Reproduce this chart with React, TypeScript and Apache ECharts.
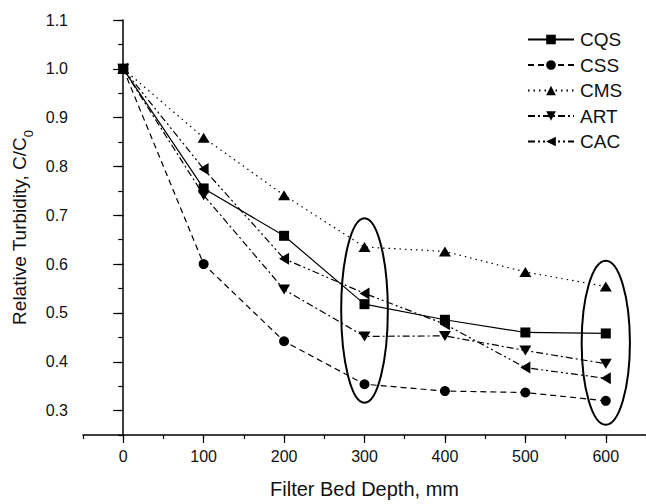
import React, { useEffect, useRef } from "react";
import * as echarts from "echarts";

const depths = [0, 100, 200, 300, 400, 500, 600];
const cqs = [1.0, 0.755, 0.658, 0.518, 0.486, 0.46, 0.458];
const css = [1.0, 0.6, 0.442, 0.354, 0.34, 0.337, 0.32];
const cms = [1.0, 0.859, 0.741, 0.635, 0.626, 0.584, 0.554];
const art = [1.0, 0.741, 0.548, 0.452, 0.453, 0.423, 0.396];
const cac = [1.0, 0.795, 0.611, 0.54, 0.477, 0.388, 0.366];
const seriesNames = ["CQS", "CSS", "CMS", "ART", "CAC"];
const xMajorTicks = [0, 100, 200, 300, 400, 500, 600];
const yMajorTicks = [0.3, 0.4, 0.5, 0.6, 0.7, 0.8, 0.9, 1.0, 1.1];
// ellipses: [centre depth, centre value, half width (mm), half height (value)]
const ellipses = [
  [300, 0.505, 29, 0.189],
  [600, 0.439, 30, 0.168],
];

const FONT = "Liberation Sans, Arial, sans-serif";
const INK = "#111";

export default function App() {
  const ref = useRef<HTMLDivElement>(null);
  useEffect(() => {
    if (!ref.current) return;
    const chart = echarts.init(ref.current, null, { renderer: "svg" });
    const pair = (ys: number[]) => depths.map((d, i) => [d, ys[i]]);
    const lineSeries = (
      name: string,
      ys: number[],
      type: any,
      symbol: string,
      size: any,
      rotate = 0
    ) => ({
      name,
      type: "line",
      data: pair(ys),
      xAxisIndex: 0,
      yAxisIndex: 0,
      symbol,
      symbolSize: size,
      symbolRotate: rotate,
      lineStyle: { color: "#000", width: 1.2, type },
      itemStyle: { color: "#000" },
      z: 3,
    });
    chart.setOption({
      animation: false,
      backgroundColor: "#fff",
      textStyle: { fontFamily: FONT },
      grid: { left: 83, right: -2, top: 20, bottom: 65 },
      legend: {
        data: seriesNames,
        orient: "vertical",
        left: 527,
        top: 30,
        padding: 0,
        itemWidth: 46,
        itemHeight: 12,
        itemGap: 6.5,
        textStyle: { fontFamily: FONT, fontSize: 19, color: INK, lineHeight: 19, padding: [0, 0, 0, 1] },
      },
      xAxis: [
        {
          type: "value",
          min: -50,
          max: 650,
          interval: 50,
          position: "bottom",
          name: "Filter Bed Depth, mm",
          nameLocation: "middle",
          nameGap: 54,
          nameTextStyle: { fontFamily: FONT, fontSize: 20, color: INK, verticalAlign: "middle" },
          axisLine: { show: true, lineStyle: { color: "#000", width: 1.5 } },
          axisTick: { show: true, length: 4, lineStyle: { color: "#000", width: 1.2 } },
          axisLabel: {
            customValues: xMajorTicks,
            margin: 13,
            fontFamily: FONT,
            fontSize: 16,
            color: INK,
          },
          splitLine: { show: false },
        },
        {
          type: "value",
          min: -50,
          max: 650,
          position: "bottom",
          axisLine: { show: false },
          axisTick: {
            show: true,
            customValues: xMajorTicks,
            length: 8,
            lineStyle: { color: "#000", width: 1.2 },
          },
          axisLabel: { show: false },
          splitLine: { show: false },
        },
      ],
      yAxis: [
        {
          type: "value",
          min: 0.25,
          max: 1.1,
          interval: 0.05,
          position: "left",
          name: "Relative Turbidity, C/C{sub|0}",
          nameLocation: "middle",
          nameGap: 63,
          nameRotate: 90,
          nameTextStyle: {
            fontFamily: FONT,
            fontSize: 19,
            color: INK,
            verticalAlign: "middle",
            rich: {
              sub: { fontFamily: FONT, fontSize: 13, color: INK, verticalAlign: "bottom", lineHeight: 30 },
            },
          },
          axisLine: { show: true, lineStyle: { color: "#000", width: 1.5 } },
          axisTick: { show: true, length: 5, lineStyle: { color: "#000", width: 1.2 } },
          axisLabel: {
            customValues: yMajorTicks,
            formatter: (v: number) => v.toFixed(1),
            margin: 15,
            fontFamily: FONT,
            fontSize: 16,
            color: INK,
          },
          splitLine: { show: false },
        },
        {
          type: "value",
          min: 0.25,
          max: 1.1,
          position: "left",
          axisLine: { show: false },
          axisTick: {
            show: true,
            customValues: yMajorTicks,
            length: 10,
            lineStyle: { color: "#000", width: 1.2 },
          },
          axisLabel: { show: false },
          splitLine: { show: false },
        },
      ],
      series: [
        lineSeries("CQS", cqs, "solid", "rect", 10),
        lineSeries("CSS", css, [6, 4], "circle", 10),
        lineSeries("CMS", cms, [1.5, 4], "triangle", [12, 10]),
        lineSeries("ART", art, [7, 3, 2, 3], "triangle", [12, 10], 180),
        lineSeries("CAC", cac, [7, 3, 2, 3, 2, 3], "triangle", [12, 10], 90),
        {
          type: "custom",
          name: "ellipse",
          xAxisIndex: 0,
          yAxisIndex: 0,
          data: ellipses,
          silent: true,
          z: 2,
          renderItem: (params: any, api: any) => {
            const c = api.coord([api.value(0), api.value(1)]);
            const s = api.size([api.value(2), api.value(3)]);
            return {
              type: "ellipse",
              shape: { cx: c[0], cy: c[1], rx: s[0], ry: s[1] },
              style: { fill: "none", stroke: "#000", lineWidth: 2 },
            };
          },
        },
      ],
    });
    return () => chart.dispose();
  }, []);
  return (
    <div
      ref={ref}
      style={{ position: "fixed", left: 0, top: 0, width: 646, height: 504, background: "#fff" }}
    />
  );
}
